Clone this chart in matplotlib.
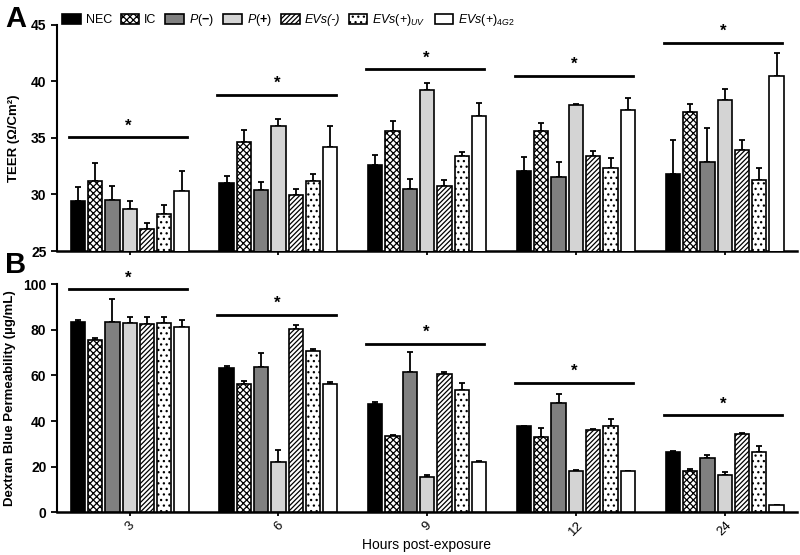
import matplotlib
matplotlib.use('Agg')
import matplotlib.pyplot as plt
import numpy as np

# time points (hours)
hours = ['3', '6', '9', '12', '24']

# TEER means and SEM (upper error) per group
teer_nec = [29.44, 30.97, 32.58, 32.08, 31.82]
teer_ic = [31.18, 34.59, 35.58, 35.58, 37.28]
teer_pneg = [29.53, 30.41, 30.50, 31.55, 32.90]
teer_ppos = [28.68, 36.03, 39.20, 37.87, 38.38]
teer_evneg = [26.91, 29.91, 30.73, 33.40, 33.90]
teer_evuv = [28.29, 31.21, 33.40, 32.29, 31.29]
teer_ev4g2 = [30.32, 34.21, 36.93, 37.50, 40.46]

teer_nec_err = [1.24, 0.65, 0.89, 1.24, 2.97]
teer_ic_err = [1.56, 1.09, 0.91, 0.73, 0.71]
teer_pneg_err = [1.23, 0.71, 0.88, 1.33, 2.97]
teer_ppos_err = [0.73, 0.65, 0.64, 0.15, 0.97]
teer_evneg_err = [0.53, 0.53, 0.50, 0.45, 0.92]
teer_evuv_err = [0.80, 0.58, 0.39, 0.94, 1.06]
teer_ev4g2_err = [1.77, 1.85, 1.12, 1.02, 2.00]

# Dextran blue permeability means and SEM
dex_nec = [83.6, 63.4, 47.6, 37.7, 26.3]
dex_ic = [75.6, 56.1, 33.4, 33.2, 18.1]
dex_pneg = [83.5, 63.6, 61.4, 47.8, 23.8]
dex_ppos = [83.0, 22.2, 15.7, 18.1, 16.4]
dex_evneg = [82.7, 80.3, 60.7, 36.0, 34.2]
dex_evuv = [82.9, 70.7, 53.5, 37.9, 26.6]
dex_ev4g2 = [81.1, 56.1, 22.0, 18.0, 3.0]

dex_nec_err = [0.9, 0.9, 0.9, 0.3, 0.4]
dex_ic_err = [0.7, 1.3, 0.4, 3.6, 0.9]
dex_pneg_err = [10.0, 6.1, 8.8, 3.9, 1.2]
dex_ppos_err = [2.8, 5.1, 0.7, 0.5, 1.1]
dex_evneg_err = [2.8, 1.8, 0.7, 0.6, 0.6]
dex_evuv_err = [2.8, 1.1, 3.4, 2.9, 2.6]
dex_ev4g2_err = [3.2, 0.9, 0.3, 0.2, 0.3]

# height of significance bars
teer_sig = [35.06, 38.8, 41.06, 40.49, 43.4]
dex_sig = [97.9, 86.7, 74.0, 56.8, 42.7]

labels = ['NEC', 'IC', r'$P(\mathbf{-})$', r'$P(\mathbf{+})$', 'EVs(-)',
          r'$EVs(+)_{UV}$', r'$EVs(+)_{4G2}$']

plt.rcParams['hatch.linewidth'] = 0.9
plt.rcParams['mathtext.fontset'] = 'custom'
plt.rcParams['mathtext.rm'] = 'Liberation Sans'
plt.rcParams['mathtext.it'] = 'Liberation Sans:italic'
plt.rcParams['mathtext.bf'] = 'Liberation Sans:bold'

narrow = ['Liberation Sans', 'DejaVu Sans']
bold = ['Liberation Sans', 'DejaVu Sans']

styles = [
    dict(color='black'),
    dict(color='white', hatch='xxxxx'),
    dict(color='#808080'),
    dict(color='#d4d4d4'),
    dict(color='white', hatch='///////'),
    dict(color='white', hatch='...'),
    dict(color='white'),
]

fig = plt.figure(figsize=(8, 5.55), dpi=100)
axA = fig.add_axes([0.071, 0.5477, 0.925, 0.408])
axB = fig.add_axes([0.071, 0.0769, 0.925, 0.411])

x = np.arange(len(hours))
pitch = 0.1163
width = 0.096


def draw(ax, means, errs, sig, ylim, yticks, star_off):
    for i in range(7):
        pos = x + (i - 3) * pitch
        st = styles[i]
        ax.errorbar(pos, means[i], yerr=[np.zeros(5), errs[i]], fmt='none',
                    ecolor='black', elinewidth=1.3, capsize=2.5, capthick=1.3, zorder=2)
        ax.bar(pos, means[i], width, color=st['color'], hatch=st.get('hatch'),
               edgecolor='black', linewidth=1.2, label=labels[i], zorder=3)
    for k in range(5):
        ax.plot([x[k] - 0.41, x[k] + 0.385], [sig[k], sig[k]], color='black', lw=2)
        ax.annotate('*', (x[k] - 0.01, sig[k]), xytext=(0, star_off),
                    textcoords='offset points', ha='center', va='center',
                    fontsize=12, fontweight='bold', family=bold)
    ax.set_xlim(-0.49, 4.485)
    ax.set_ylim(*ylim)
    ax.set_yticks(yticks)
    ax.set_xticks(x)
    ax.spines['top'].set_visible(False)
    ax.spines['right'].set_visible(False)
    ax.spines['left'].set_linewidth(1.5)
    ax.spines['bottom'].set_linewidth(1.8)
    ax.tick_params(axis='y', length=4, width=1.3)
    ax.tick_params(axis='x', length=3, width=1.3)
    for t in ax.get_yticklabels():
        t.set_fontfamily(bold)
        t.set_fontweight('bold')
        t.set_fontsize(10)


teer_means = [teer_nec, teer_ic, teer_pneg, teer_ppos, teer_evneg, teer_evuv, teer_ev4g2]
teer_errs = [teer_nec_err, teer_ic_err, teer_pneg_err, teer_ppos_err,
             teer_evneg_err, teer_evuv_err, teer_ev4g2_err]
dex_means = [dex_nec, dex_ic, dex_pneg, dex_ppos, dex_evneg, dex_evuv, dex_ev4g2]
dex_errs = [dex_nec_err, dex_ic_err, dex_pneg_err, dex_ppos_err,
            dex_evneg_err, dex_evuv_err, dex_ev4g2_err]

draw(axA, teer_means, teer_errs, teer_sig, (25, 45), [25, 30, 35, 40, 45], 8)
draw(axB, dex_means, dex_errs, dex_sig, (0, 100), [0, 20, 40, 60, 80, 100], 8)

axA.set_xticklabels([])
axB.set_xticklabels(hours, rotation=45, fontsize=9.5, family=narrow)
axB.tick_params(axis='x', pad=2)
axB.set_xlabel('Hours post-exposure', fontsize=10, family=narrow, va='center')
axB.xaxis.set_label_coords(0.5, -0.145)

axA.set_ylabel('TEER (Ω/Cm²)', fontsize=9.5, fontweight='bold', family=bold, labelpad=8)
axB.set_ylabel('Dextran Blue Permeability (µg/mL)', fontsize=9.5, fontweight='bold',
               family=bold, labelpad=5)

leg = axA.legend(loc='center left', bbox_to_anchor=(0.0, 1.02), ncol=7, frameon=False,
                 prop={'family': narrow, 'size': 9}, handlelength=1.5, handleheight=0.9,
                 handletextpad=0.4, columnspacing=0.7, borderaxespad=0)
leg.get_texts()[4].set_style('italic')

fig.text(0.006, 0.965, 'A', fontsize=21, fontweight='bold', family=bold, va='center')
fig.text(0.006, 0.523, 'B', fontsize=21, fontweight='bold', family=bold, va='center')

fig.savefig('out.png', dpi=100)
